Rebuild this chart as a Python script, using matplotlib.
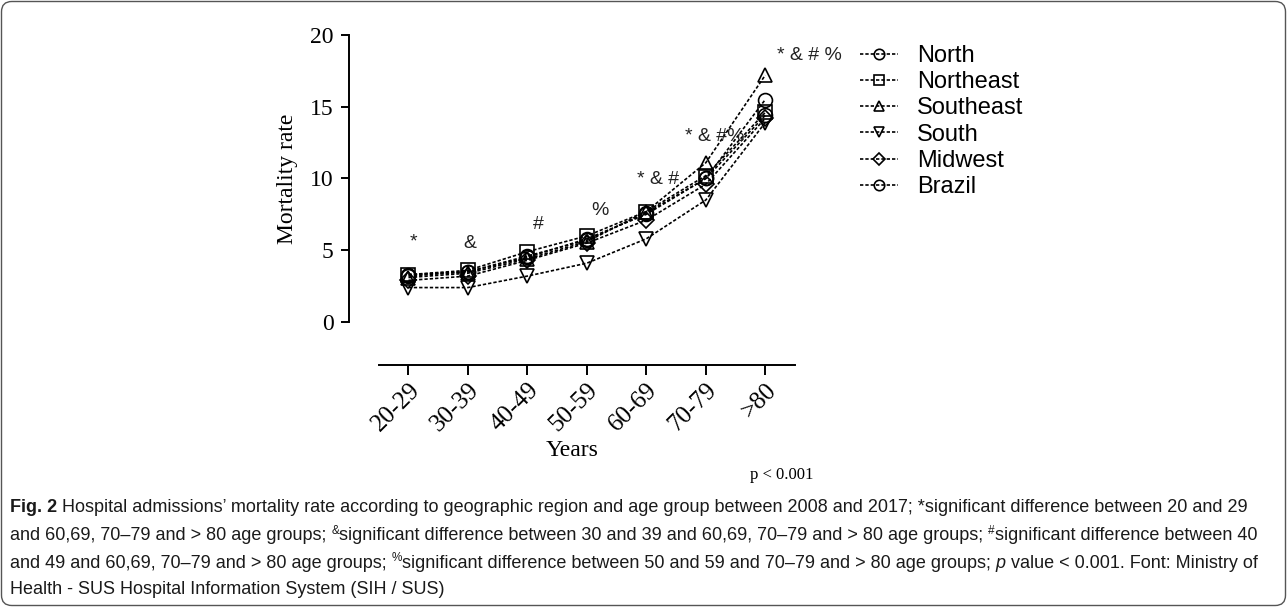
import matplotlib
matplotlib.use("Agg")
import matplotlib.pyplot as plt
from matplotlib.patches import FancyBboxPatch

# age groups on the x axis
age_groups = ["20-29", "30-39", "40-49", "50-59", "60-69", "70-79", ">80"]

# mortality rate per region
north = [3.3, 3.5, 4.6, 5.7, 7.6, 10.0, 15.5]
northeast = [3.3, 3.6, 4.9, 6.0, 7.7, 10.2, 14.6]
southeast = [3.1, 3.4, 4.4, 5.6, 7.7, 11.1, 17.2]
south = [2.4, 2.4, 3.2, 4.1, 5.8, 8.5, 13.9]
midwest = [2.9, 3.2, 4.3, 5.5, 7.1, 9.6, 14.2]
brazil = [3.2, 3.5, 4.5, 5.8, 7.5, 10.0, 14.4]

regions = ["North", "Northeast", "Southeast", "South", "Midwest", "Brazil"]
series = [north, northeast, southeast, south, midwest, brazil]
markers = ["o", "s", "^", "v", "D", "o"]

# significance marks above each group
sig_labels = ["*", "&", "#", "%", "* & #", "* & #%", "* & # %"]
sig_y = [5.6, 5.5, 6.8, 7.8, 9.9, 12.9, 18.6]
sig_dx = [0.08, 0.04, 0.18, 0.22, 0.2, 0.15, 0.75]

caption = [
    [("Fig. 2", {"weight": "bold"}),
     (" Hospital admissions\u2019 mortality rate according to geographic region and age group between 2008 and 2017; *significant difference between 20 and 29", {})],
    [("and 60,69, 70\u201379 and > 80 age groups; ", {}), ("&", {"sup": True}),
     ("significant difference between 30 and 39 and 60,69, 70\u201379 and > 80 age groups; ", {}), ("#", {"sup": True}),
     ("significant difference between 40", {})],
    [("and 49 and 60,69, 70\u201379 and > 80 age groups; ", {}), ("%", {"sup": True}),
     ("significant difference between 50 and 59 and 70\u201379 and > 80 age groups; ", {}), ("p", {"style": "italic"}),
     (" value < 0.001. Font: Ministry of", {})],
    [("Health - SUS Hospital Information System (SIH / SUS)", {})],
]

W, H = 1287, 607
serif = "Liberation Serif"
sans = "Liberation Sans"

fig = plt.figure(figsize=(W / 100, H / 100), dpi=100)

ax = fig.add_axes([349 / W, 285 / H, 446 / W, 287 / H])
x = list(range(len(age_groups)))
for vals, name, m in zip(series, regions, markers):
    ax.plot(x, vals, color="black", lw=1.2, ls=(0, (2, 1.2)), marker=m,
            ms=10 if m != "D" else 8, mfc="none", mec="black", mew=1.2, label=name)

for i, (lab, yv, dx) in enumerate(zip(sig_labels, sig_y, sig_dx)):
    ax.text(i + dx, yv, lab, ha="center", va="center", fontsize=14,
            family=sans, color="#222222", clip_on=False)

ax.spines["top"].set_visible(False)
ax.spines["right"].set_visible(False)
ax.spines["left"].set_bounds(0, 20)
ax.spines["bottom"].set_position(("outward", 31))
ax.spines["bottom"].set_bounds(-0.5, 6.5)
for s in ("left", "bottom"):
    ax.spines[s].set_linewidth(1.4)
ax.tick_params(axis="y", length=6, width=1.4, pad=5, labelsize=17)
ax.tick_params(axis="x", length=7, width=1.4, pad=3, labelsize=18)

ax.set_xlim(-1, 6.5)
ax.set_ylim(0, 20)
ax.set_yticks([0, 5, 10, 15, 20])
ax.set_xticks(x)
ax.set_xticklabels(age_groups, rotation=45, ha="right", va="top",
                   rotation_mode="anchor", family=serif, fontsize=18)
for t in ax.get_yticklabels():
    t.set_family(serif)
    t.set_fontsize(17)

ax.set_ylabel("Mortality rate", family=serif, fontsize=17, labelpad=9)
ax.set_xlabel("Years", family=serif, fontsize=17)
ax.xaxis.label.set_va("center")
ax.xaxis.set_label_coords(0.5, -0.446)

fig.legend(loc="upper left", bbox_to_anchor=(860 / W, 1 - 45 / H), frameon=False,
           prop={"family": sans, "size": 17}, markerscale=0.75, handlelength=1.6,
           handletextpad=0.8, labelspacing=0.18, borderpad=0, borderaxespad=0)

fig.text(813 / W, 1 - 475 / H, "p < 0.001", family=serif, fontsize=12,
         ha="right", va="center")

# caption, drawn piece by piece
cap_ax = fig.add_axes([0, 0, 1, 1])
cap_ax.axis("off")
cap_ax.set_zorder(-1)
line_y = [508, 536, 563, 590]
for pieces, ly in zip(caption, line_y):
    base = None
    prev = None
    for txt, kw in pieces:
        kw = dict(kw)
        sup = kw.pop("sup", False)
        style = dict(family=sans, color="#1a1a1a", ha="left", **kw)
        if prev is None:
            prev = cap_ax.text(10 / W, 1 - ly / H, txt, fontsize=13, va="center", **style)
            base = prev
        elif sup:
            prev = cap_ax.annotate(txt, xy=(1, 0.45), xycoords=(prev, base),
                                   va="bottom", fontsize=8.5, **style)
        else:
            prev = cap_ax.annotate(txt, xy=(1, 0), xycoords=(prev, base),
                                   va="bottom", fontsize=13, **style)

# rounded frame round the whole figure
frame = FancyBboxPatch((1.5 / W, 1.5 / H), 1 - 3 / W, 1 - 3 / H, transform=fig.transFigure,
                       boxstyle="round,pad=0,rounding_size=0.008", mutation_aspect=W / H,
                       fill=False, edgecolor="#555555", lw=1.0)
fig.patches.append(frame)

fig.savefig("out.png", dpi=100)
